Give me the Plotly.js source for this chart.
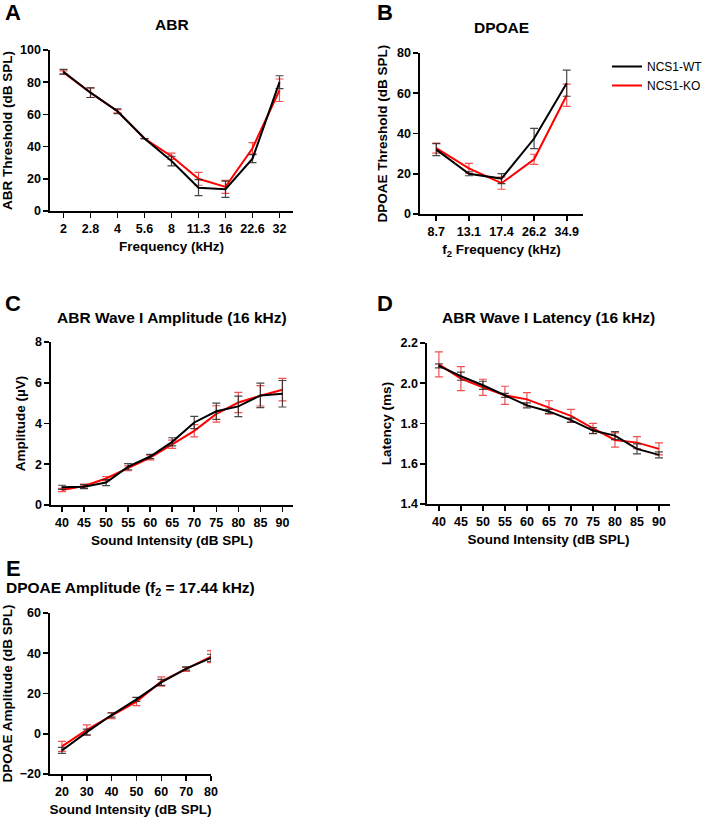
<!DOCTYPE html>
<html>
<head>
<meta charset="utf-8">
<script src="https://cdn.plot.ly/plotly-3.0.1.min.js"></script>
<style>html,body{margin:0;padding:0;background:#fff;}</style>
</head>
<body>
<div id="chart" style="width:708px;height:818px;"></div>
<script>
// ---------- Data ----------
// A: ABR threshold
const abrFreq = ['2','2.8','4','5.6','8','11.3','16','22.6','32'];
const abrWT = [86.5, 73.5, 62, 45, 31, 14.5, 13.5, 32.5, 80];
const abrWTerr = [1.5, 3, 1.5, 0, 3, 5, 5, 2.5, 4];
const abrKO = [86, 73.5, 62, 45, 34, 20, 15, 39, 75];
const abrKOerr = [1, 3, 1, 0, 2, 4, 4, 3.5, 7];

// B: DPOAE threshold
const dpFreq = ['8.7','13.1','17.4','26.2','34.9'];
const dpWT = [32, 20, 17.6, 37.5, 65];
const dpWTerr = [3, 1, 2.5, 5, 6.5];
const dpKO = [32.7, 22.7, 15.3, 27.2, 59];
const dpKOerr = [2.5, 2.5, 3, 2.5, 5.5];

// C: ABR Wave I amplitude
const intensityCD = [40, 45, 50, 55, 60, 65, 70, 75, 80, 85, 90];
const ampWT = [0.87, 0.9, 1.1, 1.88, 2.38, 3.1, 4.05, 4.6, 4.84, 5.38, 5.46];
const ampWTerr = [0.1, 0.1, 0.15, 0.15, 0.1, 0.2, 0.3, 0.4, 0.5, 0.6, 0.65];
const ampKO = [0.74, 0.93, 1.3, 1.8, 2.33, 2.98, 3.64, 4.47, 5.03, 5.36, 5.66];
const ampKOerr = [0.08, 0.1, 0.1, 0.12, 0.12, 0.2, 0.3, 0.4, 0.5, 0.5, 0.55];

// D: ABR Wave I latency
const latWT = [2.086, 2.035, 1.99, 1.94, 1.89, 1.86, 1.817, 1.765, 1.74, 1.674, 1.644];
const latWTerr = [0.01, 0.02, 0.02, 0.01, 0.012, 0.01, 0.01, 0.015, 0.02, 0.025, 0.015];
const latKO = [2.094, 2.023, 1.98, 1.94, 1.92, 1.88, 1.838, 1.776, 1.718, 1.705, 1.674];
const latKOerr = [0.062, 0.06, 0.04, 0.045, 0.033, 0.033, 0.032, 0.025, 0.035, 0.03, 0.03];

// E: DPOAE amplitude
const intensityE = [20, 30, 40, 50, 60, 70, 80];
const dpAmpWT = [-8.3, 0.8, 9.3, 17.1, 25.5, 32.4, 37.7];
const dpAmpWTerr = [1.5, 1.5, 1, 1, 1.5, 0.8, 1.8];
const dpAmpKO = [-6.3, 1.9, 9, 16, 26, 32, 38.3];
const dpAmpKOerr = [2.5, 2.5, 1.5, 2, 2.3, 1, 3];

const names = ['NCS1-WT', 'NCS1-KO'];

// ---------- Styling ----------
const W = 708, H = 818;
const WT_COLOR = '#000000', KO_COLOR = '#ff0000';
const WT_ERR = 'rgba(40,40,40,0.85)', KO_ERR = 'rgba(240,50,50,0.85)';
const FONT = 'Liberation Sans, Arial, sans-serif';

function px(x0, x1) { return [x0 / W, x1 / W]; }
function py(ytop, ybot) { return [1 - ybot / H, 1 - ytop / H]; }

function trace(x, y, err, isWT, xa, ya, showLegend) {
  return {
    x: x, y: y, xaxis: xa, yaxis: ya,
    type: 'scatter', mode: 'lines',
    name: isWT ? names[0] : names[1],
    legendgroup: isWT ? 'wt' : 'ko',
    legendrank: isWT ? 1 : 2,
    showlegend: !!showLegend,
    cliponaxis: false,
    line: { color: isWT ? WT_COLOR : KO_COLOR, width: 2 },
    error_y: { type: 'data', array: err, visible: true,
      color: isWT ? WT_ERR : KO_ERR, thickness: 1.2, width: 4 },
    hoverinfo: 'x+y'
  };
}

const data = [
  trace(abrFreq, abrKO, abrKOerr, false, 'x', 'y', false),
  trace(abrFreq, abrWT, abrWTerr, true, 'x', 'y', false),
  trace(dpFreq, dpKO, dpKOerr, false, 'x2', 'y2', true),
  trace(dpFreq, dpWT, dpWTerr, true, 'x2', 'y2', true),
  trace(intensityCD, ampKO, ampKOerr, false, 'x3', 'y3', false),
  trace(intensityCD, ampWT, ampWTerr, true, 'x3', 'y3', false),
  trace(intensityCD, latKO, latKOerr, false, 'x4', 'y4', false),
  trace(intensityCD, latWT, latWTerr, true, 'x4', 'y4', false),
  trace(intensityE, dpAmpKO, dpAmpKOerr, false, 'x5', 'y5', false),
  trace(intensityE, dpAmpWT, dpAmpWTerr, true, 'x5', 'y5', false)
];

const tickFont = { family: FONT, size: 12.5, color: '#000', weight: 'bold' };
const titleFont = { family: FONT, size: 13.5, color: '#000', weight: 'bold' };

function xax(domain, yanchor, extra, title) {
  return Object.assign({
    domain: domain, anchor: yanchor,
    showline: true, linecolor: '#000', linewidth: 1.6,
    ticks: 'outside', ticklen: 5, tickwidth: 1.6, tickcolor: '#000',
    showgrid: false, zeroline: false, tickfont: tickFont,
    title: { text: title, font: titleFont, standoff: 7 },
    fixedrange: true
  }, extra);
}
function yax(domain, xanchor, extra, title) {
  return Object.assign({
    domain: domain, anchor: xanchor,
    showline: true, linecolor: '#000', linewidth: 1.6,
    ticks: 'outside', ticklen: 5, tickwidth: 1.6, tickcolor: '#000',
    showgrid: false, zeroline: false, tickfont: tickFont,
    title: { text: title, font: titleFont, standoff: 6 },
    fixedrange: true
  }, extra);
}

function ann(text, x, y, size) {
  return { text: text, x: x / W, y: 1 - y / H, xref: 'paper', yref: 'paper',
    xanchor: 'center', yanchor: 'middle', showarrow: false,
    font: { family: FONT, size: size, color: '#000', weight: 'bold' } };
}

const layout = {
  width: W, height: H,
  margin: { l: 0, r: 0, t: 0, b: 0 },
  paper_bgcolor: '#fff', plot_bgcolor: '#fff',
  font: { family: FONT, color: '#000' },
  showlegend: true,
  legend: { x: 607 / W, y: 1 - 52 / H, xanchor: 'left', yanchor: 'top',
    font: { family: FONT, size: 12, color: '#000' },
    bgcolor: 'rgba(0,0,0,0)', traceorder: 'normal' },
  xaxis: xax(px(50, 293), 'y', { type: 'category', range: [-0.5, 8.5] }, 'Frequency (kHz)'),
  yaxis: yax(py(50, 211), 'x', { range: [0, 100], dtick: 20 }, 'ABR Threshold (dB SPL)'),
  xaxis2: xax(px(420, 583), 'y2', { type: 'category', range: [-0.5, 4.5] }, 'f<sub>2</sub> Frequency (kHz)'),
  yaxis2: yax(py(53, 214), 'x2', { range: [0, 80], dtick: 20 }, 'DPOAE Threshold (dB SPL)'),
  xaxis3: xax(px(51, 293), 'y3', { range: [37.5, 92.4], tickvals: intensityCD }, 'Sound Intensity (dB SPL)'),
  yaxis3: yax(py(342, 505), 'x3', { range: [0, 8], dtick: 2 }, 'Amplitude (µV)'),
  xaxis4: xax(px(427, 670), 'y4', { range: [37.3, 92.5], tickvals: intensityCD }, 'Sound Intensity (dB SPL)'),
  yaxis4: yax(py(343, 504), 'x4', { range: [1.4, 2.2], dtick: 0.2, tickformat: '.1f' }, 'Latency (ms)'),
  xaxis5: xax(px(50, 211), 'y5', { range: [15.2, 80], tickvals: intensityE }, 'Sound Intensity (dB SPL)'),
  yaxis5: yax(py(613, 774), 'x5', { range: [-20, 60], dtick: 20 }, 'DPOAE Amplitude (dB SPL)'),
  annotations: [
    ann('A', 13, 13, 22), ann('B', 385, 13, 22), ann('C', 13, 303, 22),
    ann('D', 385, 303, 22), ann('E', 13, 568, 22),
    ann('ABR', 171.5, 25, 15.5),
    ann('DPOAE', 501.5, 27, 15.5),
    ann('ABR Wave I Amplitude (16 kHz)', 172, 317, 15.5),
    ann('ABR Wave I Latency (16 kHz)', 548.5, 317, 15.5),
    ann('DPOAE Amplitude (f<sub>2</sub> = 17.44 kHz)', 130, 588, 15.5)
  ]
};

Plotly.newPlot('chart', data, layout, { displayModeBar: false, staticPlot: true });
</script>
</body>
</html>
